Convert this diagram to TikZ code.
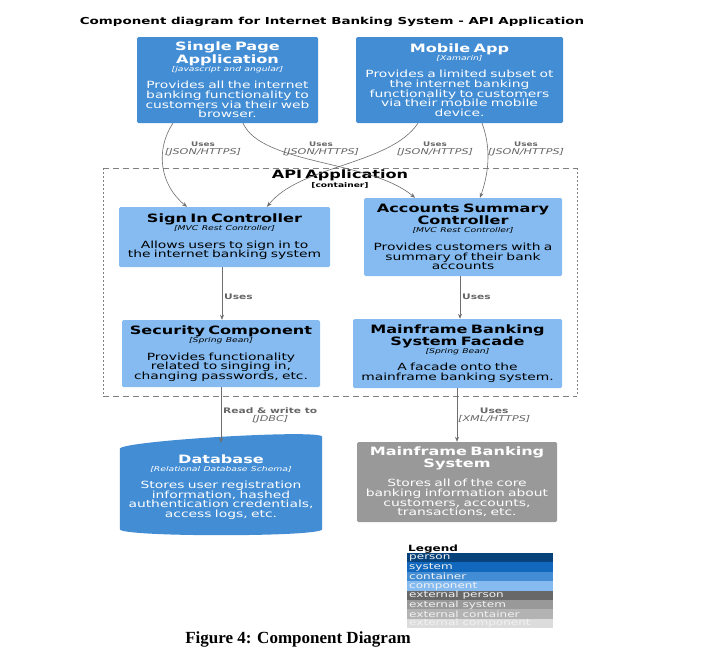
\documentclass[tikz,border=0pt]{standalone}
\usepackage{fontspec}
\setmainfont[FakeStretch=1.4]{DejaVu Sans}
\newfontfamily\capfont{Liberation Serif}
\usetikzlibrary{arrows.meta}
\definecolor{ctr}{HTML}{438DD5}
\definecolor{cmp}{HTML}{85BBF0}
\definecolor{extsys}{HTML}{999999}
\definecolor{edgec}{HTML}{6E6E6E}
\definecolor{lblc}{HTML}{666666}
\definecolor{lgperson}{HTML}{08427B}
\definecolor{lgsystem}{HTML}{1168BD}
\definecolor{lgcontainer}{HTML}{438DD5}
\definecolor{lgcomponent}{HTML}{85BBF0}
\definecolor{lgextperson}{HTML}{686868}
\definecolor{lgextsystem}{HTML}{999999}
\definecolor{lgextcontainer}{HTML}{B3B3B3}
\definecolor{lgextcomponent}{HTML}{DCDCDC}
\newcommand\bt[1]{{\fontsize{11.5}{11}\selectfont\bfseries #1\par}}
\newcommand\tch[1]{{\fontsize{6.6}{8}\selectfont\itshape #1\par}}
\newcommand\dsc[1]{{\fontsize{9.9}{9.6}\selectfont #1\par}}
\newcommand\lus{\fontsize{6.3}{8}\selectfont\bfseries}
\newcommand\lu{\fontsize{7.6}{8}\selectfont\bfseries}
\newcommand\lt{\fontsize{8}{8}\selectfont\itshape}
\tikzset{
  box/.style={rectangle, rounded corners=1.5pt, inner sep=0pt, align=center},
  ctrbox/.style={box, fill=ctr, text=white},
  cmpbox/.style={box, fill=cmp, text=black},
  extbox/.style={box, fill=extsys, text=white},
  rel/.style={draw=edgec, line width=0.6pt, -{Stealth[length=5pt,width=4pt]}},
  lbl/.style={align=center, inner sep=0pt, text=lblc, font=\fontsize{7}{8}\selectfont},
}
\begin{document}
\begin{tikzpicture}[x=1pt,y=-1pt]
\useasboundingbox[fill=white] (0,0) rectangle (703,664);

\node[inner sep=0pt, anchor=base] (title) at (332,24) {\fontsize{9.6}{10}\selectfont\bfseries Component diagram for Internet Banking System - API Application};

% boundary
\draw[gray, line width=0.6pt, dash pattern=on 6pt off 4pt] (103,168) -- (577,168);
\draw[gray, line width=0.6pt, dash pattern=on 6pt off 4pt] (103,396) -- (577,396);
\draw[gray, line width=0.6pt, dash pattern=on 2pt off 2pt] (103,168) -- (103,396);
\draw[gray, line width=0.6pt, dash pattern=on 2pt off 2pt] (577,168) -- (577,396);
\node[inner sep=0pt, text width=160pt, align=center] (api) at (340,179) {\bt{API Application}{\fontsize{6.5}{7}\selectfont\bfseries [container]\par}};

% containers
\node[ctrbox, minimum width=181pt, minimum height=86pt, text width=181pt] (spa) at (227.5,80)
 {\bt{Single Page\\Application}\tch{[javascript and angular]}\vspace{8pt}\dsc{Provides all the internet\\banking functionality to\\customers via their web\\browser.}};
\node[ctrbox, minimum width=207pt, minimum height=86pt, text width=207pt] (mob) at (459.5,80)
 {\bt{Mobile App}\tch{[Xamarin]}\vspace{8pt}\dsc{Provides a limited subset ot\\the internet banking\\functionality to customers\\via their mobile mobile\\device.}};

% components
\node[cmpbox, minimum width=211pt, minimum height=60pt, text width=211pt] (sic) at (224.5,237)
 {\bt{Sign In Controller}\tch{[MVC Rest Controller]}\vspace{8pt}\dsc{Allows users to sign in to\\the internet banking system}};
\node[cmpbox, minimum width=198pt, minimum height=78pt, text width=198pt] (asc) at (463,237)
 {\bt{Accounts Summary\\Controller}\tch{[MVC Rest Controller]}\vspace{8pt}\dsc{Provides customers with a\\summary of their bank\\accounts}};
\node[cmpbox, minimum width=198pt, minimum height=67pt, text width=198pt] (sec) at (221,353.5)
 {\bt{Security Component}\tch{[Spring Bean]}\vspace{8pt}\dsc{Provides functionality\\related to singing in,\\changing passwords, etc.}};
\node[cmpbox, minimum width=209pt, minimum height=69pt, text width=209pt] (mbf) at (457.5,353.5)
 {\bt{Mainframe Banking\\System Facade}\tch{[Spring Bean]}\vspace{8pt}\dsc{A facade onto the\\mainframe banking system.}};

% database cylinder
\node[inner sep=0pt, minimum width=202pt, minimum height=80pt] (db) at (221,483) {};
\fill[ctr] (db.north west) ++(0,6) .. controls +(0,-8) and +(0,-8) .. ([yshift=6]db.north east)
  -- ([yshift=-6]db.south east) .. controls +(0,8) and +(0,8) .. ([yshift=-6]db.south west) -- cycle;
\node[inner sep=0pt, text width=202pt, align=center, text=white] (dbt) at (221,487)
 {\bt{Database}\tch{[Relational Database Schema]}\vspace{8pt}\dsc{Stores user registration\\information, hashed\\authentication credentials,\\access logs, etc.}};

\node[extbox, minimum width=200pt, minimum height=80pt, text width=200pt] (mbs) at (457,482)
 {\bt{Mainframe Banking\\System}\vspace{8pt}\dsc{Stores all of the core\\banking information about\\customers, accounts,\\transactions, etc.}};

% edges
\draw[rel] ([xshift=-54.5]spa.south) .. controls (155,150) and (160,185) .. ([xshift=-37.5]sic.north);
\draw[rel] ([xshift=15.5]spa.south) .. controls (262,165) and (370,160) .. ([xshift=-48]asc.north);
\draw[rel] ([xshift=-41.5]mob.south) .. controls (390,165) and (300,165) .. ([xshift=42.5]sic.north);
\draw[rel] ([xshift=22.5]mob.south) .. controls (492,150) and (488,175) .. ([xshift=17]asc.north);
\draw[rel] ([xshift=-2.5]sic.south) -- ([xshift=1]sec.north);
\draw[rel] ([xshift=-3]asc.south) -- ([xshift=2.5]mbf.north);
\draw[rel] (sec.south) -- (db.north);
\draw[rel] ([xshift=-0.5]mbf.south) -- (mbs.north);

% labels
\node[lbl] (l1) at (203,149.5) {\lus Uses\\\lt [JSON/HTTPS]};
\node[lbl] (l2) at (321,149.5) {\lus Uses\\\lt [JSON/HTTPS]};
\node[lbl] (l3) at (435,149.5) {\lus Uses\\\lt [JSON/HTTPS]};
\node[lbl] (l4) at (526,149.5) {\lus Uses\\\lt [JSON/HTTPS]};
\node[lbl, anchor=west] (l5) at (224,297) {\lu Uses};
\node[lbl, anchor=west] (l6) at (462,297) {\lu Uses};
\node[lbl, anchor=west] (l7) at (223,415.5) {\lu Read \& write to\\\lt [JDBC]};
\node[lbl, anchor=west] (l8) at (458,415.5) {\lu Uses\\\lt [XML/HTTPS]};

% legend
\node[inner sep=0pt, anchor=base west] (lgt) at (408,551) {\fontsize{8.6}{9}\selectfont\bfseries Legend};
\foreach \c/\t [count=\i from 0] in {lgperson/person, lgsystem/system, lgcontainer/container, lgcomponent/component, lgextperson/external person, lgextsystem/external system, lgextcontainer/external container, lgextcomponent/external component}{
  \fill[\c] (407,553+9.375*\i) rectangle (553,553+9.375*\i+9.375);
  \node[inner sep=0pt, anchor=west, text=white!90!gray] (lg\i) at (409,553+9.375*\i+4.8) {\fontsize{8.6}{9}\selectfont \t};
}

\node[inner sep=0pt, anchor=base] (cap) at (298,643) {\capfont\fontsize{17}{18}\selectfont\bfseries Figure 4: Component Diagram};
\end{tikzpicture}
\end{document}
